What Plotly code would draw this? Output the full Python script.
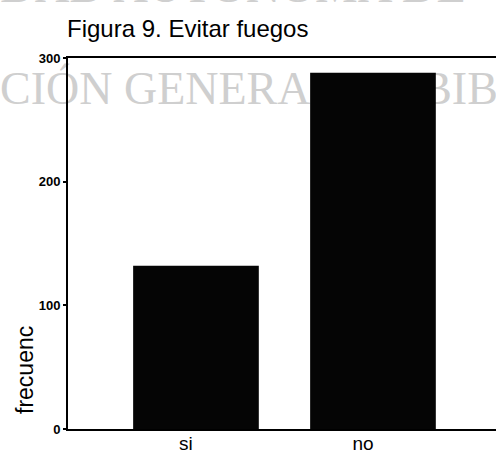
import plotly.graph_objects as go

categories = ["si", "no"]
frecuencias = [132, 288]
y_ticks = [0, 100, 200, 300]
title_text = "Figura 9. Evitar fuegos"
y_title = "frecuenc"
watermark_top = "DAD AUTONOMA DE"
watermark_mid = "CIÓN GENERAL DE BIB"

W, H = 496, 455
L, R, T, B = 68, 0, 58, 26
pw, ph = W - L - R, H - T - B

def px_x(px):
    return (px - L) / pw

def px_y(py):
    return (H - B - py) / ph

fig = go.Figure()
fig.add_trace(go.Bar(
    x=categories, y=frecuencias, width=0.71,
    marker=dict(color="#050505", line=dict(width=0)),
    hoverinfo="skip",
))

wm_color = "#cfcfcf"
wm_font = "Liberation Serif"

fig.update_layout(
    width=W, height=H,
    margin=dict(l=L, r=R, t=T, b=B, pad=0, autoexpand=False),
    paper_bgcolor="white", plot_bgcolor="rgba(0,0,0,0)",
    showlegend=False,
    xaxis=dict(
        type="category", range=[-0.723, 1.695], automargin=False,
        showline=True, linecolor="black", linewidth=2, mirror=True,
        showgrid=False, zeroline=False, ticks="",
        tickfont=dict(family="Liberation Sans", size=19, color="black"),
        ticklabelshift=-10, ticklabelstandoff=-4,
    ),
    yaxis=dict(
        range=[0, 300], tickvals=y_ticks, automargin=False,
        showline=True, linecolor="black", linewidth=2,
        showgrid=False, zeroline=False,
        ticks="outside", ticklen=3, tickwidth=2, tickcolor="black",
        tickfont=dict(family="Liberation Sans", size=13, color="black", weight="bold"),
    ),
    shapes=[
        dict(type="rect", xref="paper", yref="paper", layer="below",
             x0=px_x(-3), x1=px_x(600), y0=px_y(107), y1=px_y(59),
             line=dict(width=0), fillcolor="rgba(0,0,0,0)",
             label=dict(text=watermark_mid, textposition="middle left", padding=0,
                        font=dict(family=wm_font, size=46, color=wm_color))),
    ],
    annotations=[
        dict(text=title_text, xref="paper", yref="paper",
             x=px_x(65), y=px_y(44), xanchor="left", yanchor="bottom",
             showarrow=False,
             font=dict(family="Liberation Sans", size=24, color="black")),
        dict(text=y_title, xref="paper", yref="paper", textangle=-90,
             x=px_x(25), y=px_y(370), xanchor="center", yanchor="middle",
             showarrow=False,
             font=dict(family="Liberation Sans", size=23, color="black")),
        dict(text=watermark_top, xref="paper", yref="paper",
             x=px_x(-2), y=px_y(-14), xanchor="left", yanchor="middle",
             showarrow=False,
             font=dict(family=wm_font, size=48, color=wm_color)),
    ],
)

fig.write_html("out.html", config={"displayModeBar": False},
               post_script="document.body.style.margin='0';document.body.style.padding='0';")
